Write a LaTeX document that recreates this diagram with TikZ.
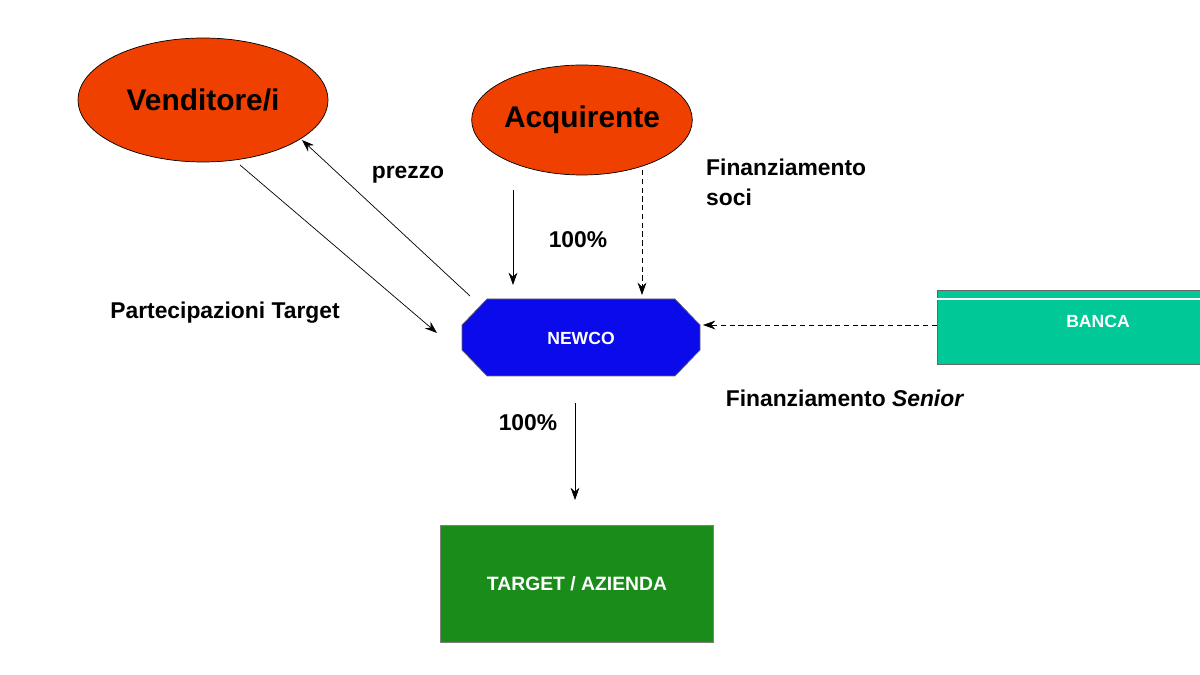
\documentclass[tikz,border=0pt]{standalone}
\usepackage{fontspec}
\setmainfont{Liberation Sans}
\usetikzlibrary{shapes.geometric,arrows.meta}
\definecolor{ered}{RGB}{240,64,0}
\definecolor{bgreen}{RGB}{0,200,150}
\definecolor{tgreen}{RGB}{26,140,26}
\definecolor{nblue}{RGB}{10,10,235}
\begin{document}
\begin{tikzpicture}[x=0.02cm,y=-0.02cm,
  ell/.style={draw=black,fill=ered,ellipse,inner sep=0pt,font=\fontsize{17}{19}\selectfont\bfseries},
  lbl/.style={font=\fontsize{13}{15}\selectfont\bfseries},
  arr/.style={-{Stealth[length=7pt,width=5pt]},thin},
  dsh/.style={arr,densely dashed}]
\useasboundingbox (0,0) rectangle (1200,675);
\node[ell,minimum width=5cm,minimum height=2.48cm] (v) at (203,100) {Venditore/i};
\node[ell,minimum width=4.28cm,minimum height=2.2cm] (a) at (582,120) {Acquirente};
\fill[nblue,draw=black!60] (487,299) -- (675,299) -- (700,325) -- (700,350) -- (675,376) -- (487,376) -- (462,350) -- (462,325) -- cycle;
\node[text=white,font=\fontsize{10}{12}\selectfont\bfseries] (n) at (581,338) {NEWCO};
\fill[bgreen,draw=black!60] (937,290) rectangle (1205,364);
\draw[white,thick] (937,299) -- (1205,299);
\node[text=white,font=\fontsize{10}{12}\selectfont\bfseries] (b) at (1098,321) {BANCA};
\node[fill=tgreen,draw=black!50,minimum width=5.46cm,minimum height=2.34cm,text=white,font=\fontsize{11}{13}\selectfont\bfseries] (t) at (577,584) {TARGET / AZIENDA};
\coordinate (v1) at (240,165); \coordinate (n1) at (437,333);
\coordinate (n2) at (470,296); \coordinate (v2) at (302,140);
\coordinate (a1) at (513,190); \coordinate (n3) at (513,285);
\coordinate (a2) at (642,170); \coordinate (n4) at (642,295);
\coordinate (b1) at (937,325); \coordinate (n5) at (703,325);
\coordinate (n6) at (575,403); \coordinate (t1) at (575,500);
\draw[arr] (v1) -- (n1);
\draw[arr] (n2) -- (v2);
\draw[arr] (a1) -- (n3);
\draw[dsh] (a2) -- (n4);
\draw[dsh] (b1) -- (n5);
\draw[arr] (n6) -- (t1);
\node[lbl] (l1) at (408,175) {prezzo};
\node[lbl] (l2) at (578,240) {100\%};
\node[lbl,anchor=west,align=left] (l3) at (700,182) {Finanziamento\\[2pt]soci};
\node[lbl] (l4) at (225,313) {Partecipazioni Target};
\node[lbl] (l5) at (845,398) {Finanziamento \textit{Senior}};
\node[lbl] (l6) at (528,423) {100\%};
\end{tikzpicture}
\end{document}
